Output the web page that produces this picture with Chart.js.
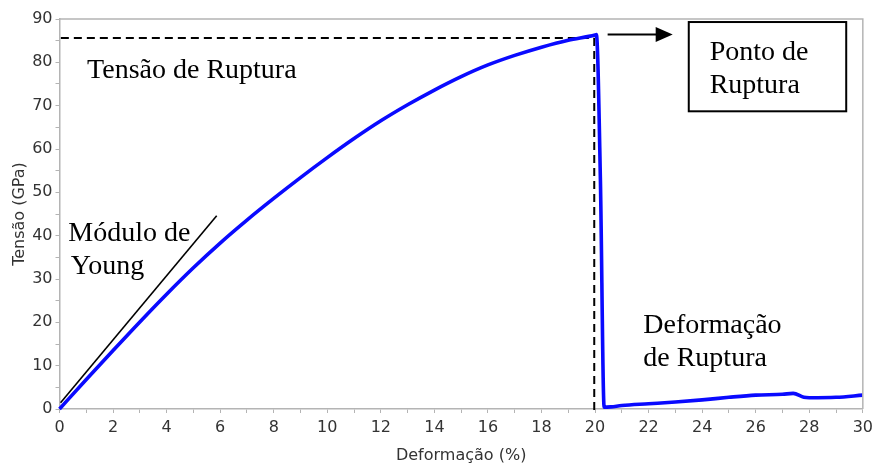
<!DOCTYPE html>
<html>
<head>
<meta charset="utf-8">
<script src="https://cdn.jsdelivr.net/npm/chart.js@4.4.1/dist/chart.umd.min.js"></script>
<style>
  body { margin: 0; background: #fff; }
</style>
</head>
<body>
<canvas id="chart" width="878" height="467"></canvas>
<script>
// curva tensão x deformação
const strainValues = [0, 1, 2, 3, 4, 5, 6, 7, 8, 9, 10, 11, 12, 13, 14, 15, 16, 17, 18, 19, 20, 20.05,
  20.2, 20.34, 20.6, 21, 22, 23, 24, 25, 26, 27, 27.4, 27.8, 28, 29, 30];
const stressValues = [0, 6.8, 13.5, 20.1, 26.5, 32.6, 38.3, 43.6, 48.6, 53.4, 58.0, 62.4, 66.5, 70.2, 73.6, 76.7, 79.4, 81.6, 83.5, 85.1, 86.3, 86.4,
  52.9, 0.4, 0.5, 0.8, 1.2, 1.6, 2.1, 2.7, 3.2, 3.4, 3.6, 2.7, 2.6, 2.7, 3.2];

// linhas auxiliares
const ruptureStress = 85.6;
const ruptureStrain = 19.97;
const youngLineX = [0.04, 5.87];
const youngLineY = [1.45, 44.6];

const xTickLabels = ["0", "2", "4", "6", "8", "10", "12", "14", "16", "18", "20", "22", "24", "26", "28", "30"];
const yTickLabels = ["0", "10", "20", "30", "40", "50", "60", "70", "80", "90"];

const serif = "'Liberation Serif', 'Times New Roman', serif";
const sans = "'DejaVu Sans', Verdana, sans-serif";

// textos e caixa (coordenadas em unidades do gráfico)
const notes = [
  { text: "Tensão de Ruptura", x: 1.03, y: 76.4 },
  { text: "Módulo de", x: 0.33, y: 38.8 },
  { text: "Young", x: 0.42, y: 31.2 },
  { text: "Deformação", x: 21.8, y: 17.5 },
  { text: "de Ruptura", x: 21.8, y: 10.0 },
  { text: "Ponto de", x: 24.28, y: 80.5 },
  { text: "Ruptura", x: 24.28, y: 72.9 },
];

const annotationPlugin = {
  id: "annotations",
  afterDatasetsDraw(chart) {
    const ctx = chart.ctx;
    const xs = chart.scales.x;
    const ys = chart.scales.y;
    const area = chart.chartArea;
    ctx.save();

    // moldura
    ctx.strokeStyle = "#b4b4b4";
    ctx.lineWidth = 1.5;
    ctx.beginPath();
    ctx.moveTo(area.left, area.top);
    ctx.lineTo(area.right, area.top);
    ctx.lineTo(area.right, area.bottom);
    ctx.stroke();

    // textos
    ctx.fillStyle = "#000";
    ctx.font = "28px " + serif;
    ctx.textBaseline = "alphabetic";
    notes.forEach((n) => {
      ctx.fillText(n.text, xs.getPixelForValue(n.x), ys.getPixelForValue(n.y));
    });

    // caixa "Ponto de Ruptura"
    const bx1 = xs.getPixelForValue(23.5), bx2 = xs.getPixelForValue(29.38);
    const by1 = ys.getPixelForValue(89.3), by2 = ys.getPixelForValue(68.7);
    ctx.strokeStyle = "#000";
    ctx.lineWidth = 2;
    ctx.strokeRect(bx1, by1, bx2 - bx1, by2 - by1);

    // seta
    const ax1 = xs.getPixelForValue(20.47), ax2 = xs.getPixelForValue(22.9);
    const ay = ys.getPixelForValue(86.4);
    ctx.beginPath();
    ctx.moveTo(ax1, ay);
    ctx.lineTo(ax2 - 14, ay);
    ctx.stroke();
    ctx.beginPath();
    ctx.moveTo(ax2, ay);
    ctx.lineTo(ax2 - 17, ay - 7.5);
    ctx.lineTo(ax2 - 17, ay + 7.5);
    ctx.closePath();
    ctx.fill();

    ctx.restore();
  },
};

const ctx = document.getElementById("chart").getContext("2d");

new Chart(ctx, {
  type: "scatter",
  data: {
    datasets: [
      {
        label: "Curva",
        data: strainValues.map((x, i) => ({ x: x, y: stressValues[i] })),
        showLine: true,
        borderColor: "rgb(10, 10, 255)",
        borderWidth: 3.6,
        pointRadius: 0,
        cubicInterpolationMode: "monotone",
        borderJoinStyle: "round",
        order: 1,
      },
      {
        label: "Tensão de ruptura",
        data: [{ x: 0.05, y: ruptureStress }, { x: ruptureStrain, y: ruptureStress }],
        showLine: true,
        borderColor: "#000",
        borderWidth: 2,
        borderDash: [8, 5],
        pointRadius: 0,
        order: 2,
      },
      {
        label: "Deformação de ruptura",
        data: [{ x: ruptureStrain, y: ruptureStress }, { x: ruptureStrain, y: -0.6 }],
        showLine: true,
        borderColor: "#000",
        borderWidth: 2,
        borderDash: [8, 5],
        pointRadius: 0,
        order: 2,
      },
      {
        label: "Módulo de Young",
        data: youngLineX.map((x, i) => ({ x: x, y: youngLineY[i] })),
        showLine: true,
        borderColor: "#000",
        borderWidth: 1.6,
        pointRadius: 0,
        order: 2,
      },
    ],
  },
  options: {
    responsive: false,
    animation: false,
    clip: false,
    layout: { padding: { top: 19, right: 11, left: 0, bottom: 0 } },
    plugins: {
      legend: { display: false },
      tooltip: { enabled: false },
    },
    scales: {
      x: {
        type: "linear",
        min: 0,
        max: 30,
        afterFit: (scale) => { scale.height = 58; },
        border: { color: "#b4b4b4", width: 1.5 },
        grid: { drawOnChartArea: false, color: "#b4b4b4", tickLength: 4 },
        ticks: {
          stepSize: 1,
          autoSkip: false,
          maxRotation: 0,
          padding: 5,
          color: "#333",
          font: { family: sans, size: 16 },
          callback: (v) => (v % 2 === 0 ? xTickLabels[v / 2] : ""),
        },
        title: {
          display: true,
          text: "Deformação (%)",
          color: "#333",
          font: { family: sans, size: 16 },
          padding: { top: 0, bottom: 2 },
        },
      },
      y: {
        type: "linear",
        min: 0,
        max: 90,
        afterFit: (scale) => { scale.width = 59.5; },
        border: { color: "#b4b4b4", width: 1.5 },
        grid: { drawOnChartArea: false, color: "#b4b4b4", tickLength: 4 },
        ticks: {
          stepSize: 5,
          autoSkip: false,
          padding: 3,
          color: "#333",
          font: { family: sans, size: 16 },
          callback: (v) => (v % 10 === 0 ? yTickLabels[v / 10] : ""),
        },
        title: {
          display: true,
          text: "Tensão (GPa)",
          color: "#333",
          font: { family: sans, size: 16 },
          padding: { top: 10, bottom: 0 },
        },
      },
    },
  },
  plugins: [annotationPlugin],
});
</script>
</body>
</html>
